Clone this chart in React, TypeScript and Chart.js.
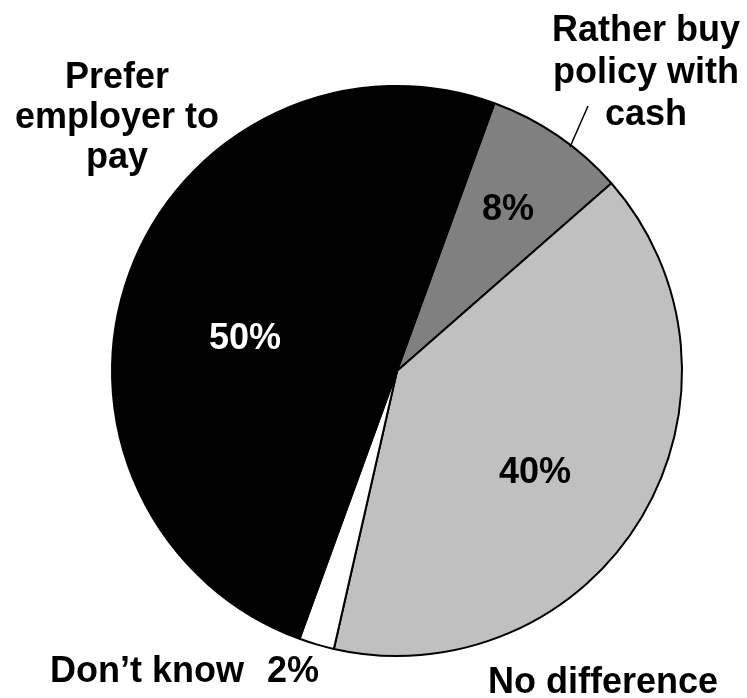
import React, { useEffect, useRef } from "react";
import { Chart, registerables } from "chart.js";

Chart.register(...registerables);

const categories = ["Rather buy policy with cash", "No difference", "Don\u2019t know", "Prefer employer to pay"];
const values = [8, 40, 2, 50];
const sliceColors = ["#808080", "#c0c0c0", "#ffffff", "#000000"];
const pctLabels = ["8%", "40%", "2%", "50%"];

const FONT = "bold 36px 'Liberation Sans', Arial, sans-serif";

// text annotations (canvas coordinates)
const annotations = [
  { lines: ["Prefer", "employer to", "pay"], x: 117, y: 88, lh: 40, color: "#000" },
  { lines: ["Rather buy", "policy with", "cash"], x: 646, y: 41, lh: 42, color: "#000" },
  { lines: ["Don\u2019t know"], x: 147, y: 682, lh: 40, color: "#000" },
  { lines: [pctLabels[2]], x: 293, y: 682, lh: 40, color: "#000" },
  { lines: ["No difference"], x: 603, y: 693, lh: 40, color: "#000" },
  { lines: [pctLabels[0]], x: 508, y: 220, lh: 40, color: "#000" },
  { lines: [pctLabels[3]], x: 245, y: 349, lh: 40, color: "#fff" },
  { lines: [pctLabels[1]], x: 535, y: 483, lh: 40, color: "#000" },
];

const labelPlugin = {
  id: "labels",
  afterDraw(chart: any) {
    const ctx = chart.ctx;
    ctx.save();
    ctx.font = FONT;
    ctx.textAlign = "center";
    ctx.textBaseline = "alphabetic";
    for (const a of annotations) {
      ctx.fillStyle = a.color;
      a.lines.forEach((l, i) => ctx.fillText(l, a.x, a.y + i * a.lh));
    }
    // leader line
    ctx.strokeStyle = "#000";
    ctx.lineWidth = 1.5;
    ctx.beginPath();
    ctx.moveTo(570, 147);
    ctx.lineTo(588, 106);
    ctx.stroke();
    ctx.restore();
  },
};

export default function App() {
  const ref = useRef<HTMLCanvasElement>(null);
  useEffect(() => {
    const chart = new Chart(ref.current!, {
      type: "pie",
      data: {
        labels: categories,
        datasets: [
          {
            data: values,
            backgroundColor: sliceColors,
            borderColor: "#000",
            borderWidth: 2,
          },
        ],
      },
      options: {
        responsive: false,
        animation: false,
        rotation: 20,
        layout: { padding: { left: 111, right: 64, top: 85, bottom: 41 } },
        plugins: { legend: { display: false }, tooltip: { enabled: false } },
      },
      plugins: [labelPlugin],
    });
    return () => chart.destroy();
  }, []);
  return (
    <div style={{ position: "fixed", left: 0, top: 0, width: 747, height: 698, background: "#fff" }}>
      <canvas ref={ref} width={747} height={698} style={{ width: 747, height: 698 }} />
    </div>
  );
}
